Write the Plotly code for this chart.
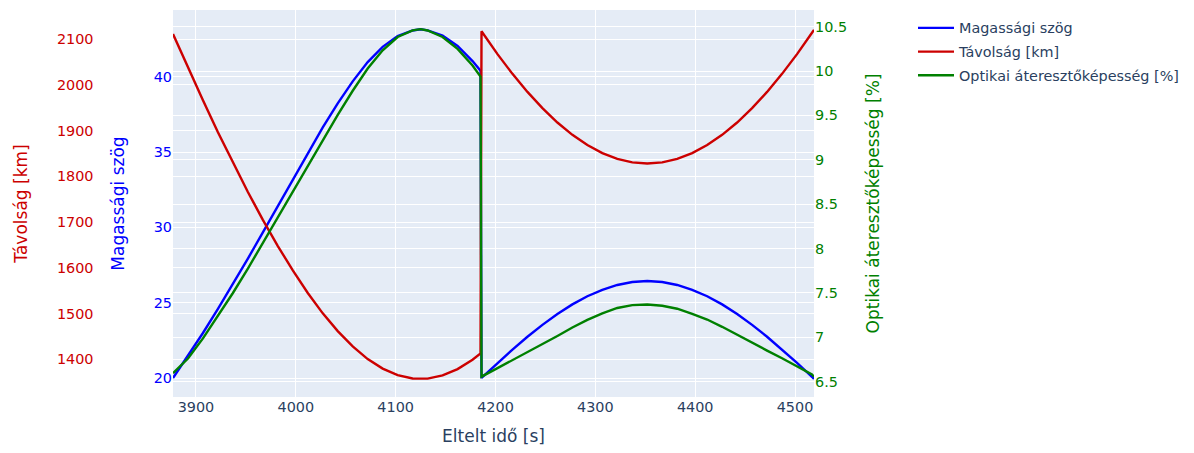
import plotly.graph_objects as go

# First pass (elapsed time in s)
t_pass1 = [3877, 3892, 3907, 3922, 3937, 3952, 3967, 3982, 3997, 4012, 4027, 4042,
           4057, 4072, 4087, 4102, 4117, 4125, 4132, 4147, 4162, 4177, 4185]
elev_pass1 = [20.0, 21.46, 22.99, 24.59, 26.24, 27.93, 29.67, 31.42, 33.18, 34.94, 36.64, 38.24,
              39.70, 40.98, 41.99, 42.71, 43.08, 43.16, 43.09, 42.74, 42.05, 41.05, 40.41]
dist_pass1 = [2111.6, 2038.0, 1966.4, 1896.7, 1830.0, 1765.9, 1704.9, 1647.7, 1594.3, 1545.0,
              1500.5, 1461.7, 1428.2, 1400.5, 1379.6, 1365.4, 1358.1, 1357.1, 1357.8, 1364.6,
              1378.5, 1399.0, 1412.6]
trans_pass1 = [6.595, 6.761, 6.987, 7.236, 7.499, 7.774, 8.064, 8.350, 8.643, 8.936, 9.224, 9.507,
               9.778, 10.029, 10.234, 10.384, 10.458, 10.472, 10.457, 10.384, 10.250, 10.063, 9.938]

# Second pass
t_pass2 = [4186, 4202, 4217, 4232, 4247, 4262, 4277, 4292, 4307, 4322, 4337, 4352,
           4367, 4382, 4397, 4412, 4427, 4442, 4457, 4472, 4487, 4502, 4517, 4519]
elev_pass2 = [20.01, 21.00, 21.89, 22.74, 23.53, 24.25, 24.89, 25.43, 25.86, 26.18, 26.38, 26.44,
              26.38, 26.18, 25.86, 25.43, 24.89, 24.25, 23.53, 22.74, 21.89, 21.00, 20.07, 19.95]
dist_pass2 = [2117.4, 2067.5, 2024.3, 1984.8, 1949.3, 1917.9, 1891.0, 1868.7, 1851.1, 1838.4,
              1830.8, 1828.3, 1830.8, 1838.4, 1851.1, 1868.7, 1891.0, 1917.9, 1949.3, 1984.8,
              2024.3, 2067.5, 2114.2, 2120.6]
trans_pass2 = [6.556, 6.652, 6.742, 6.831, 6.920, 7.015, 7.110, 7.196, 7.270, 7.330, 7.362, 7.370,
               7.355, 7.322, 7.264, 7.200, 7.118, 7.026, 6.936, 6.850, 6.764, 6.672, 6.580, 6.556]

t_all = t_pass1 + t_pass2
elev_all = elev_pass1 + elev_pass2
dist_all = dist_pass1 + dist_pass2
trans_all = trans_pass1 + trans_pass2

BLUE = "#0000ff"
RED = "#cc0000"
GREEN = "#008000"
LW = 2.4

fig = go.Figure()
fig.add_trace(go.Scatter(x=t_all, y=elev_all, mode="lines", name="Magassági szög",
                         legendgroup="elev", line=dict(color=BLUE, width=LW), yaxis="y"))
fig.add_trace(go.Scatter(x=t_all, y=dist_all, mode="lines", name="Távolság [km]",
                         legendgroup="dist", line=dict(color=RED, width=LW), yaxis="y2"))
fig.add_trace(go.Scatter(x=t_all, y=trans_all, mode="lines", name="Optikai áteresztőképesség [%]",
                         legendgroup="trans", line=dict(color=GREEN, width=LW), yaxis="y3"))

W, H = 1194, 453
PH = H - 10 - 56
fig.update_layout(
    width=W, height=H,
    template="plotly",
    font=dict(family="DejaVu Sans", size=14.4),
    margin=dict(l=0, r=0, t=10, b=56, autoexpand=False),
    xaxis=dict(domain=[173 / W, 814 / W], title=dict(text="Eltelt idő [s]")),
    yaxis=dict(title=dict(text="Magassági szög", standoff=24), color=BLUE, range=[18.74, 44.44]),
    yaxis2=dict(title=dict(text="Távolság [km]", standoff=23), color=RED, overlaying="y",
                anchor="free", side="left", position=93.5 / W, range=[1317.5, 2164]),
    yaxis3=dict(title=dict(text="Optikai áteresztőképesség [%]", standoff=21), color=GREEN,
                overlaying="y", anchor="x", side="right", range=[6.327, 10.688]),
    legend=dict(x=913 / W, y=1 - 2 / PH, xanchor="left", yanchor="top", itemwidth=36,
                tracegroupgap=2),
)

fig.write_html("out.html")
